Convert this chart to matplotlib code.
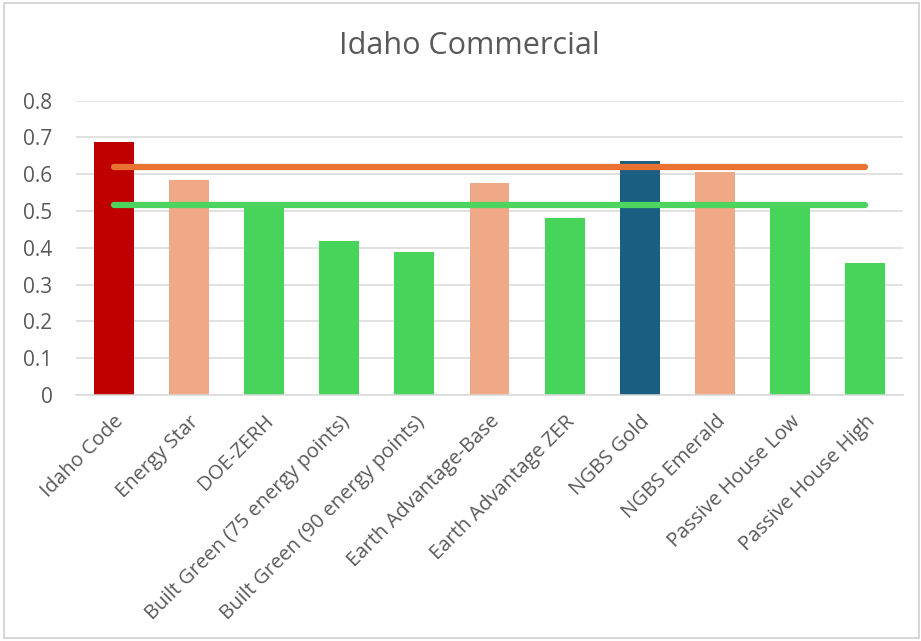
import matplotlib
matplotlib.use("Agg")
import matplotlib.pyplot as plt
from matplotlib.patches import Rectangle

categories = ["Idaho Code", "Energy Star", "DOE-ZERH",
              "Built Green (75 energy points)", "Built Green (90 energy points)",
              "Earth Advantage-Base", "Earth Advantage ZER", "NGBS Gold",
              "NGBS Emerald", "Passive House Low", "Passive House High"]
values = [0.688, 0.584, 0.515, 0.418, 0.389, 0.575, 0.480, 0.637, 0.605, 0.515, 0.360]
bar_colors = ["#C00000", "#F0A986", "#47D45A", "#47D45A", "#47D45A", "#F0A986",
              "#47D45A", "#1A5E82", "#F0A986", "#47D45A", "#47D45A"]
orange_line = [0.620, 0.620, 0.620, 0.620, 0.620, 0.620, 0.620, 0.620, 0.620, 0.620, 0.620]
green_line = [0.516, 0.516, 0.516, 0.516, 0.516, 0.516, 0.516, 0.516, 0.516, 0.516, 0.516]
yticks = [0, 0.1, 0.2, 0.3, 0.4, 0.5, 0.6, 0.7, 0.8]
ytick_labels = ["0", "0.1", "0.2", "0.3", "0.4", "0.5", "0.6", "0.7", "0.8"]

plt.rcParams['font.family'] = ['Open Sans', 'DejaVu Sans']
text_color = "#595959"

fig = plt.figure(figsize=(9.21, 6.41), dpi=100)
fig.patches.append(Rectangle((4 / 921, 3 / 641), 915 / 921, 635 / 641, transform=fig.transFigure,
                             fill=False, edgecolor="#D0D0D0", linewidth=1.2))
ax = fig.add_axes([76 / 921, 1 - 395 / 641, 827 / 921, (395 - 100.7) / 641])

x = list(range(len(categories)))
ax.bar(x, values, width=0.53, color=bar_colors, zorder=2)
ax.plot(x, orange_line, color="#E97132", linewidth=4.5, solid_capstyle="round", zorder=3)
ax.plot(x, green_line, color="#4CD45E", linewidth=4.5, solid_capstyle="round", zorder=3)

ax.set_xlim(-0.5, len(categories) - 0.5)
ax.set_ylim(0, 0.8)
ax.set_yticks(yticks)
ax.set_yticklabels(ytick_labels, fontsize=15, color=text_color)
ax.yaxis.grid(True, color="#D9D9D9", linewidth=1.1, zorder=0)
ax.set_axisbelow(True)
ax.tick_params(axis="y", length=0, pad=17)
for lbl in ax.get_yticklabels():
    lbl.set_horizontalalignment("right")
ax.set_xticks(x)
ax.set_xticklabels(categories, rotation=45, ha="right", rotation_mode="anchor",
                   fontsize=14.5, color=text_color)
ax.tick_params(axis="x", length=0, pad=12)
for s in ["top", "right", "left"]:
    ax.spines[s].set_visible(False)
ax.spines["bottom"].set_color("#D9D9D9")
ax.spines["bottom"].set_linewidth(1.1)

fig.text(469 / 921, 1 - 46 / 641, "Idaho Commercial", ha="center", va="center",
         fontsize=22, color=text_color)

fig.savefig("out.png", dpi=100)
